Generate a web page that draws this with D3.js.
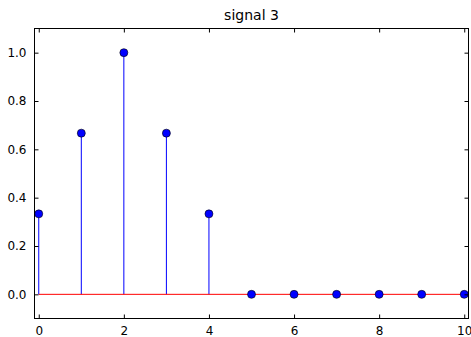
<!DOCTYPE html>
<html>
<head>
<meta charset="utf-8">
<script src="https://cdn.jsdelivr.net/npm/d3@7"></script>
<style>
  body { margin: 0; background: #fff; }
  text { font-family: "DejaVu Sans", sans-serif; }
</style>
</head>
<body>
<div id="chart"></div>
<script>
const xs = [0, 1, 2, 3, 4, 5, 6, 7, 8, 9, 10];
const values = [0.333, 0.667, 1.0, 0.667, 0.333, 0, 0, 0, 0, 0, 0];
const xTicks = [0, 2, 4, 6, 8, 10];
const yTicks = [0.0, 0.2, 0.4, 0.6, 0.8, 1.0];
const title = "signal 3";

const W = 471, H = 337;
const margin = {top: 28.5, right: 2.5, bottom: 18.5, left: 34.5};
const width = W - margin.left - margin.right;
const height = H - margin.top - margin.bottom;

const x = d3.scaleLinear().domain([-0.1, 10.1]).range([0, width]);
const y = d3.scaleLinear().domain([-0.1, 1.1]).range([height, 0]);

const svg = d3.select("#chart").append("svg")
  .attr("width", W).attr("height", H);

svg.append("text")
  .attr("x", margin.left + width / 2)
  .attr("y", 20)
  .attr("text-anchor", "middle")
  .attr("font-size", 14)
  .text(title);

const g = svg.append("g")
  .attr("transform", "translate(" + margin.left + "," + margin.top + ")");

const data = xs.map((d, i) => ({x: d, y: values[i]}));

// stems
g.selectAll(".stem")
  .data(data)
  .enter().append("line")
  .attr("class", "stem")
  .attr("x1", d => x(d.x)).attr("x2", d => x(d.x))
  .attr("y1", y(0)).attr("y2", d => y(d.y))
  .attr("stroke", "#0000ff").attr("stroke-width", 1);

// baseline
g.append("line")
  .attr("x1", x(0)).attr("x2", x(10))
  .attr("y1", y(0)).attr("y2", y(0))
  .attr("stroke", "#ff0000").attr("stroke-width", 1);

// markers
g.selectAll(".dot")
  .data(data)
  .enter().append("circle")
  .attr("cx", d => x(d.x))
  .attr("cy", d => y(d.y))
  .attr("r", 4)
  .attr("fill", "#0000ff")
  .attr("stroke", "#000")
  .attr("stroke-width", 0.6);

// axes with inward ticks
const fmt = d3.format(".1f");
const xAxis = g.append("g").attr("transform", "translate(0," + height + ")")
  .call(d3.axisBottom(x).tickValues(xTicks).tickSize(-4).tickPadding(8).tickFormat(d3.format("d")));
const xTop = g.append("g")
  .call(d3.axisTop(x).tickValues(xTicks).tickSize(-4).tickFormat(""));
const yAxis = g.append("g")
  .call(d3.axisLeft(y).tickValues(yTicks).tickSize(-4).tickPadding(8).tickFormat(fmt));
const yRight = g.append("g").attr("transform", "translate(" + width + ",0)")
  .call(d3.axisRight(y).tickValues(yTicks).tickSize(-4).tickFormat(""));

[xAxis, xTop, yAxis, yRight].forEach(a => {
  a.select(".domain").remove();
  a.selectAll("text").attr("font-size", 12).attr("fill", "#000")
    .style("font-family", "DejaVu Sans, sans-serif");
  a.selectAll(".tick line").attr("stroke", "#000");
});

// frame
g.append("rect")
  .attr("width", width).attr("height", height)
  .attr("fill", "none").attr("stroke", "#000").attr("stroke-width", 1);
</script>
</body>
</html>
